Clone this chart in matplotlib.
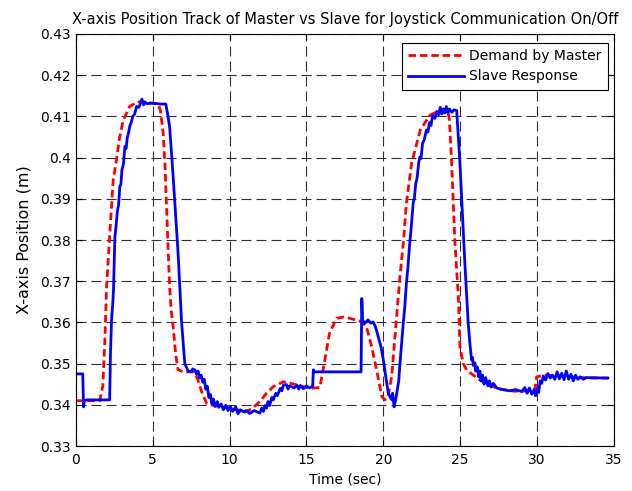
import matplotlib
matplotlib.use("Agg")
import matplotlib.pyplot as plt

plt.rcParams['font.family'] = ['DejaVu Sans']
plt.rcParams['font.size'] = 10

# master demand (red dashed): (time, position)
master = [
    (0, 0.341), (1.55, 0.341), (1.75, 0.3445), (1.88, 0.355), (2.0, 0.3687),
    (2.21, 0.3816), (2.43, 0.3946), (2.64, 0.3994), (2.85, 0.405), (3.08, 0.409),
    (3.5, 0.4124), (3.9, 0.4133), (4.2, 0.4136), (4.8, 0.4133), (5.35, 0.413),
    (5.5, 0.4115), (5.68, 0.406), (5.8, 0.398), (5.9, 0.388), (6.0, 0.378),
    (6.1, 0.3687), (6.2, 0.363), (6.33, 0.359), (6.5, 0.352), (6.65, 0.3485),
    (7.0, 0.348), (7.6, 0.348), (7.9, 0.3465), (8.2, 0.343), (8.5, 0.3404),
    (9.0, 0.3398), (10.0, 0.3392), (10.5, 0.3388), (11.0, 0.3382), (11.5, 0.3392),
    (11.97, 0.3408), (12.4, 0.3428), (12.84, 0.3444), (13.5, 0.3456), (14.0, 0.3452),
    (15.2, 0.344), (15.87, 0.3442), (16.2, 0.351), (16.5, 0.3574), (16.96, 0.361),
    (17.4, 0.3613), (17.8, 0.361), (18.48, 0.3603), (18.9, 0.359), (19.24, 0.3541),
    (19.56, 0.3485), (19.9, 0.342), (20.1, 0.3412), (20.3, 0.342), (20.54, 0.3468),
    (20.86, 0.3612), (21.1, 0.372), (21.3, 0.3793), (21.5, 0.389), (21.84, 0.3987),
    (22.4, 0.4067), (23.03, 0.4103), (23.68, 0.4115), (24.2, 0.4113), (24.3, 0.409),
    (24.44, 0.3987), (24.66, 0.379), (24.88, 0.3662), (24.98, 0.3541), (25.2, 0.350),
    (25.42, 0.3484), (26.28, 0.346), (27.37, 0.344), (28.5, 0.3433), (29.1, 0.3433),
    (29.86, 0.3438), (29.97, 0.3468), (30.5, 0.3472), (31.5, 0.347), (32.5, 0.3467),
    (33.5, 0.3465), (34.6, 0.3465),
]

# slave response (blue solid): (time, position)
slave = [
    (0, 0.3475), (0.45, 0.3475), (0.5, 0.3395), (0.55, 0.341), (0.7, 0.3412),
    (2.2, 0.3412), (2.25, 0.352), (2.32, 0.3606), (2.4, 0.3645), (2.45, 0.368),
    (2.54, 0.3808), (2.62, 0.3835), (2.7, 0.387), (2.78, 0.3885), (2.86, 0.393),
    (2.93, 0.3935), (3.0, 0.397), (3.1, 0.3985), (3.19, 0.4027), (3.27, 0.4022),
    (3.35, 0.405), (3.42, 0.4058), (3.5, 0.4075), (3.6, 0.4085), (3.7, 0.410),
    (3.82, 0.4105), (3.95, 0.4124), (4.1, 0.4122), (4.2, 0.4132), (4.3, 0.4142),
    (4.4, 0.4128), (4.5, 0.4135), (4.6, 0.4131), (5.0, 0.4132), (5.5, 0.413),
    (5.85, 0.413), (5.95, 0.411), (6.1, 0.4075), (6.3, 0.397), (6.44, 0.389),
    (6.65, 0.3768), (6.87, 0.3606), (7.0, 0.354), (7.09, 0.350), (7.3, 0.3482),
    (7.5, 0.348), (7.6, 0.3487), (7.74, 0.3485), (7.85, 0.3474), (7.95, 0.3482),
    (8.05, 0.3465), (8.15, 0.3472), (8.26, 0.3455), (8.35, 0.3462), (8.45, 0.3438),
    (8.55, 0.3445), (8.65, 0.3418), (8.75, 0.3425), (8.85, 0.3402), (8.95, 0.3414),
    (9.05, 0.3396), (9.2, 0.3408), (9.3, 0.3394), (9.45, 0.3402), (9.6, 0.3388),
    (9.75, 0.3399), (9.9, 0.3386), (10.05, 0.3396), (10.2, 0.3384), (10.4, 0.3395),
    (10.55, 0.3378), (10.7, 0.3388), (10.9, 0.3383), (11.1, 0.3386), (11.3, 0.3379),
    (11.6, 0.3386), (11.97, 0.338), (12.1, 0.3392), (12.2, 0.3384), (12.3, 0.3398),
    (12.4, 0.3392), (12.5, 0.3408), (12.6, 0.3398), (12.75, 0.3418), (12.84, 0.3412),
    (13.0, 0.3428), (13.1, 0.3422), (13.3, 0.344), (13.4, 0.3434), (13.5, 0.3448),
    (13.7, 0.3449), (13.8, 0.3438), (13.9, 0.3446), (14.2, 0.3441), (14.4, 0.3447),
    (14.5, 0.3438), (14.6, 0.3447), (14.8, 0.3439), (15.0, 0.3446), (15.2, 0.3441),
    (15.4, 0.3445), (15.45, 0.3485), (15.5, 0.348), (18.55, 0.348), (18.6, 0.3658),
    (18.65, 0.3605), (18.8, 0.3598), (19.0, 0.3606), (19.2, 0.3598), (19.34, 0.3601),
    (19.5, 0.3588), (19.67, 0.3565), (19.85, 0.354), (20.0, 0.3509), (20.15, 0.347),
    (20.32, 0.3429), (20.45, 0.3418), (20.55, 0.3412), (20.6, 0.3428), (20.7, 0.3395),
    (20.8, 0.3412), (20.9, 0.3435), (21.0, 0.3458), (21.08, 0.350), (21.2, 0.3555),
    (21.3, 0.360), (21.4, 0.3642), (21.5, 0.3695), (21.6, 0.3735), (21.7, 0.3785),
    (21.8, 0.3825), (21.94, 0.389), (22.02, 0.3902), (22.1, 0.3935), (22.2, 0.3952),
    (22.3, 0.3988), (22.38, 0.4002), (22.45, 0.3998), (22.55, 0.4035), (22.65, 0.4042),
    (22.8, 0.4067), (22.9, 0.4062), (23.0, 0.4085), (23.1, 0.4078), (23.2, 0.4102),
    (23.35, 0.4095), (23.47, 0.4112), (23.6, 0.4104), (23.7, 0.4122), (23.8, 0.4106),
    (23.9, 0.4118), (24.0, 0.4108), (24.1, 0.4124), (24.2, 0.4109), (24.3, 0.4118),
    (24.45, 0.411), (24.6, 0.4116), (24.77, 0.4114), (24.98, 0.3987), (25.15, 0.386),
    (25.3, 0.3744), (25.52, 0.3598), (25.65, 0.354), (25.74, 0.3509), (25.8, 0.3515),
    (25.85, 0.3496), (25.95, 0.3502), (26.0, 0.3482), (26.1, 0.3492), (26.2, 0.3468),
    (26.28, 0.3482), (26.35, 0.3458), (26.45, 0.3472), (26.55, 0.345), (26.65, 0.3466),
    (26.8, 0.3446), (26.9, 0.3458), (27.0, 0.3443), (27.15, 0.3452), (27.37, 0.3441),
    (27.6, 0.3438), (28.2, 0.3434), (28.6, 0.3437), (29.0, 0.3432), (29.2, 0.3442),
    (29.35, 0.3428), (29.5, 0.3441), (29.65, 0.3426), (29.8, 0.3436), (29.9, 0.3422),
    (29.97, 0.3435), (30.05, 0.3442), (30.1, 0.343), (30.2, 0.3458), (30.3, 0.3452),
    (30.4, 0.347), (30.55, 0.346), (30.7, 0.3476), (30.85, 0.3465), (31.0, 0.3472),
    (31.15, 0.3462), (31.3, 0.348), (31.45, 0.3463), (31.6, 0.3477), (31.75, 0.3461),
    (31.9, 0.3482), (32.05, 0.3462), (32.2, 0.3474), (32.35, 0.3458), (32.5, 0.3472),
    (32.65, 0.3462), (32.8, 0.3468), (33.0, 0.3462), (33.2, 0.3466), (34.6, 0.3465),
]

x_ticks = [0, 5, 10, 15, 20, 25, 30, 35]
y_ticks = [0.33, 0.34, 0.35, 0.36, 0.37, 0.38, 0.39, 0.40, 0.41, 0.42, 0.43]
y_labels = ['0.33', '0.34', '0.35', '0.36', '0.37', '0.38', '0.39', '0.4', '0.41', '0.42', '0.43']

t_master, v_master = zip(*master)
t_slave, v_slave = zip(*slave)

fig = plt.figure(figsize=(6.32, 4.91), dpi=100)
ax = fig.add_axes([0.120, 0.0916, 0.8515, 0.8392])

ax.plot(t_master, v_master, color='#ff0000', linewidth=2.0, dashes=(2.7, 1.4),
        label='Demand by Master')
ax.plot(t_slave, v_slave, color='#0000ff', linewidth=2.0, label='Slave Response')

ax.set_xlim(0, 35)
ax.set_ylim(0.33, 0.43)
ax.set_xticks(x_ticks)
ax.set_yticks(y_ticks)
ax.set_yticklabels(y_labels)
ax.tick_params(direction='in', top=True, right=True, length=4, width=0.8, labelsize=10)
ax.tick_params(axis='x', pad=5)
ax.grid(True, color='#303030', linestyle=(0, (9, 4.5)), linewidth=0.8)
ax.set_axisbelow(True)
for s in ax.spines.values():
    s.set_linewidth(0.8)

ax.set_title('X-axis Position Track of Master vs Slave for Joystick Communication On/Off',
             fontsize=10.5, pad=7)
ax.set_xlabel('Time (sec)', fontsize=10, labelpad=4)
ax.set_ylabel('X-axis Position (m)', fontsize=11.5, labelpad=6)

leg = ax.legend(loc='upper right', bbox_to_anchor=(1 - 6 / 538, 1 - 9 / 412),
                borderaxespad=0, fancybox=False, framealpha=1, edgecolor='black',
                fontsize=10, handlelength=4.0, handletextpad=0.4,
                borderpad=0.45, labelspacing=0.45)
leg.get_frame().set_linewidth(0.8)

fig.savefig('out.png', dpi=100)
